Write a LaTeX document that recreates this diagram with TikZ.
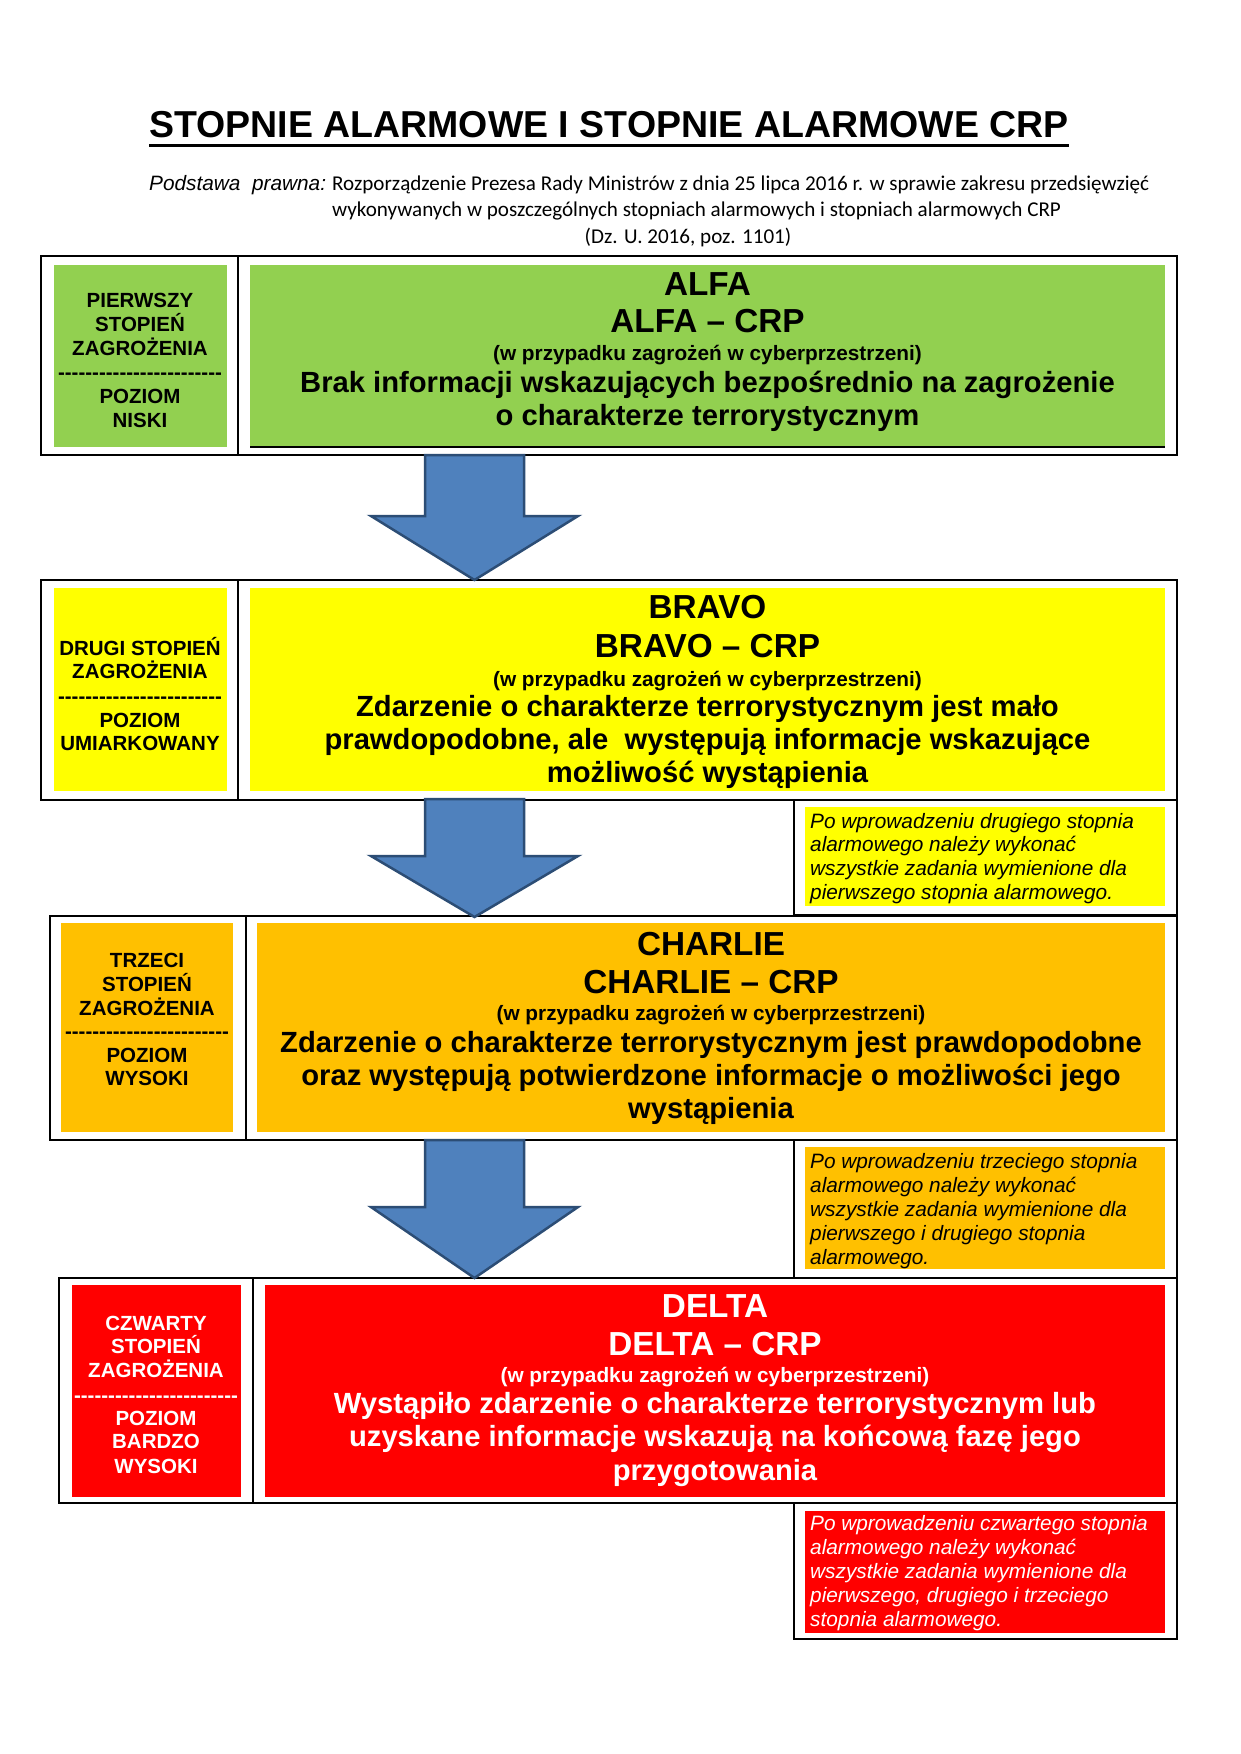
\documentclass[tikz,border=0pt]{standalone}
\usepackage{fontspec}
\setmainfont{Liberation Sans}
\newfontfamily\calibri{Carlito}
\definecolor{cgreen}{RGB}{146,208,80}
\definecolor{cyellow}{RGB}{255,255,0}
\definecolor{corange}{RGB}{255,192,0}
\definecolor{cred}{RGB}{255,0,0}
\definecolor{afill}{RGB}{79,129,189}
\definecolor{aline}{RGB}{44,77,117}
\def\hyph{-\kern0pt}
\def\dashrow{\hyph\hyph\hyph\hyph\hyph\hyph\hyph\hyph\hyph\hyph\hyph\hyph\hyph\hyph\hyph\hyph\hyph\hyph\hyph\hyph\hyph\hyph\hyph\hyph}
\tikzset{
  frame/.style={draw=black, line width=2.2pt, inner sep=0pt, outer sep=0pt, anchor=north west, rectangle},
  panel/.style={draw=none, inner sep=0pt, outer sep=0pt, anchor=north west, rectangle},
  divider/.style={draw=black, line width=2pt},
  head/.style={font=\bfseries\fontsize{33.3}{38}\selectfont, anchor=base, inner sep=0pt},
  subl/.style={font=\bfseries\fontsize{20.8}{24}\selectfont, anchor=base, inner sep=0pt},
  body/.style={font=\bfseries\fontsize{29.2}{34}\selectfont, anchor=base, inner sep=0pt},
  lab/.style={font=\bfseries\fontsize{20.5}{24}\selectfont, anchor=base, inner sep=0pt},
  note/.style={font=\itshape\fontsize{20.8}{24}\selectfont, anchor=base west, inner sep=0pt},
  blockarrow/.style={fill=afill, draw=aline, line width=2.5pt, line join=miter},
}
\begin{document}
\begin{tikzpicture}[x=1pt,y=-1pt]
\fill[white] (0,0) rectangle (1240,1754);
\useasboundingbox (0,0) rectangle (1240,1754);

% title
\node[anchor=base west, inner sep=0pt, font=\bfseries\fontsize{37.5}{40}\selectfont] (title) at (149,137) {STOPNIE ALARMOWE I STOPNIE ALARMOWE CRP};
\draw[line width=3pt] ([yshift=-8pt]title.base west) -- ([yshift=-8pt]title.base east);
\node[anchor=base west, inner sep=0pt, font=\itshape\fontsize{20.8}{24}\selectfont] (pp) at (149,190) {Podstawa\ \ prawna:};
\node[anchor=base west, inner sep=0pt, font=\calibri\fontsize{21.1}{26}\selectfont] (r1) at (332,190) {Rozporządzenie Prezesa Rady Ministrów z dnia 25 lipca 2016 r. w sprawie zakresu przedsięwzięć};
\node[anchor=base west, inner sep=0pt, font=\calibri\fontsize{21.1}{26}\selectfont] (r2) at (332,216) {wykonywanych w poszczególnych stopniach alarmowych i stopniach alarmowych CRP};
\node[anchor=base, inner sep=0pt, font=\calibri\fontsize{21.1}{26}\selectfont] (r3) at (688,243) {(Dz. U. 2016, poz. 1101)};

% ---------- box 1 ----------
\node[frame, minimum width=1136pt, minimum height=199pt] (b1) at (41,256) {};
\draw[divider] (238,256) -- (238,455);
\node[panel, fill=cgreen, minimum width=173pt, minimum height=182pt] (l1) at (54,265) {};
\node[panel, fill=cgreen, minimum width=915pt, minimum height=182pt] (m1) at (250,265) {};
\draw[line width=1.7pt] (m1.south west) -- (m1.south east);
\node[lab] (l1a) at (140,307) {PIERWSZY};
\node[lab] (l1b) at (140,331) {STOPIEŃ};
\node[lab] (l1c) at (140,355) {ZAGROŻENIA};
\node[lab] (l1d) at (140,379) {\dashrow};
\node[lab] (l1e) at (140,403) {POZIOM};
\node[lab] (l1f) at (140,427) {NISKI};
\node[head] (h1a) at (707.5,295) {ALFA};
\node[head] (h1b) at (707.5,332) {ALFA – CRP};
\node[subl] (s1) at (707.5,360) {(w przypadku zagrożeń w cyberprzestrzeni)};
\node[body] (t1a) at (707.5,392) {Brak informacji wskazujących bezpośrednio na zagrożenie};
\node[body] (t1b) at (707.5,425) {o charakterze terrorystycznym};

% ---------- box 2 ----------
\node[frame, minimum width=1136pt, minimum height=220pt] (b2) at (41,580) {};
\draw[divider] (238,580) -- (238,800);
\node[panel, fill=cyellow, minimum width=173pt, minimum height=203pt] (l2) at (54,588) {};
\node[panel, fill=cyellow, minimum width=915pt, minimum height=203pt] (m2) at (250,588) {};
\node[lab] (l2a) at (140,655) {DRUGI STOPIEŃ};
\node[lab] (l2b) at (140,678) {ZAGROŻENIA};
\node[lab] (l2c) at (140,703) {\dashrow};
\node[lab] (l2d) at (140,727) {POZIOM};
\node[lab] (l2e) at (140,750) {UMIARKOWANY};
\node[head] (h2a) at (707.5,618) {BRAVO};
\node[head] (h2b) at (707.5,657) {BRAVO – CRP};
\node[subl] (s2) at (707.5,686) {(w przypadku zagrożeń w cyberprzestrzeni)};
\node[body] (t2a) at (707.5,716) {Zdarzenie o charakterze terrorystycznym jest mało};
\node[body] (t2b) at (707.5,749) {prawdopodobne, ale\ \ występują informacje wskazujące};
\node[body] (t2c) at (707.5,782) {możliwość wystąpienia};

% note 2
\node[frame, minimum width=383pt, minimum height=115pt] (n2) at (794,800) {};
\node[panel, fill=cyellow, minimum width=360pt, minimum height=99pt] (n2p) at (805,807) {};
\node[note] (n2a) at (810,828) {Po wprowadzeniu drugiego stopnia};
\node[note] (n2b) at (810,851.5) {alarmowego należy wykonać};
\node[note] (n2c) at (810,875) {wszystkie zadania wymienione dla};
\node[note] (n2d) at (810,899) {pierwszego stopnia alarmowego.};

% ---------- box 3 ----------
\node[frame, minimum width=1127pt, minimum height=224pt] (b3) at (50,916) {};
\draw[divider] (246,916) -- (246,1140);
\node[panel, fill=corange, minimum width=172pt, minimum height=209pt] (l3) at (61,923) {};
\node[panel, fill=corange, minimum width=908pt, minimum height=209pt] (m3) at (257,923) {};
\node[lab] (l3a) at (147,967) {TRZECI};
\node[lab] (l3b) at (147,991) {STOPIEŃ};
\node[lab] (l3c) at (147,1015) {ZAGROŻENIA};
\node[lab] (l3d) at (147,1038) {\dashrow};
\node[lab] (l3e) at (147,1062) {POZIOM};
\node[lab] (l3f) at (147,1085) {WYSOKI};
\node[head] (h3a) at (711,955) {CHARLIE};
\node[head] (h3b) at (711,993) {CHARLIE – CRP};
\node[subl] (s3) at (711,1020) {(w przypadku zagrożeń w cyberprzestrzeni)};
\node[body] (t3a) at (711,1052) {Zdarzenie o charakterze terrorystycznym jest prawdopodobne};
\node[body] (t3b) at (711,1085) {oraz występują potwierdzone informacje o możliwości jego};
\node[body] (t3c) at (711,1118) {wystąpienia};

% note 3
\node[frame, minimum width=383pt, minimum height=138pt] (n3) at (794,1140) {};
\node[panel, fill=corange, minimum width=360pt, minimum height=122pt] (n3p) at (805,1147) {};
\node[note] (n3a) at (810,1168) {Po wprowadzeniu trzeciego stopnia};
\node[note] (n3b) at (810,1192) {alarmowego należy wykonać};
\node[note] (n3c) at (810,1216) {wszystkie zadania wymienione dla};
\node[note] (n3d) at (810,1240) {pierwszego i drugiego stopnia};
\node[note] (n3e) at (810,1264) {alarmowego.};

% ---------- box 4 ----------
\node[frame, minimum width=1118pt, minimum height=225pt] (b4) at (59,1278) {};
\draw[divider] (253,1278) -- (253,1503);
\node[panel, fill=cred, minimum width=169pt, minimum height=212pt] (l4) at (72,1285) {};
\node[panel, fill=cred, minimum width=900pt, minimum height=212pt] (m4) at (265,1285) {};
\begin{scope}[every node/.append style={text=white}]
\node[lab] (l4a) at (156,1330) {CZWARTY};
\node[lab] (l4b) at (156,1353) {STOPIEŃ};
\node[lab] (l4c) at (156,1377) {ZAGROŻENIA};
\node[lab] (l4d) at (156,1402) {\dashrow};
\node[lab] (l4e) at (156,1425) {POZIOM};
\node[lab] (l4f) at (156,1448) {BARDZO};
\node[lab] (l4g) at (156,1473) {WYSOKI};
\node[head] (h4a) at (715,1317) {DELTA};
\node[head] (h4b) at (715,1355) {DELTA – CRP};
\node[subl] (s4) at (715,1382) {(w przypadku zagrożeń w cyberprzestrzeni)};
\node[body] (t4a) at (715,1413) {Wystąpiło zdarzenie o charakterze terrorystycznym lub};
\node[body] (t4b) at (715,1446) {uzyskane informacje wskazują na końcową fazę jego};
\node[body] (t4c) at (715,1480) {przygotowania};
\end{scope}

% note 4
\node[frame, minimum width=383pt, minimum height=136pt] (n4) at (794,1503) {};
\node[panel, fill=cred, minimum width=360pt, minimum height=122pt] (n4p) at (805,1511) {};
\begin{scope}[every node/.append style={text=white}]
\node[note] (n4a) at (810,1530) {Po wprowadzeniu czwartego stopnia};
\node[note] (n4b) at (810,1554) {alarmowego należy wykonać};
\node[note] (n4c) at (810,1578) {wszystkie zadania wymienione dla};
\node[note] (n4d) at (810,1602) {pierwszego, drugiego i trzeciego};
\node[note] (n4e) at (810,1626) {stopnia alarmowego.};
\end{scope}

% ---------- block arrows ----------
\draw[blockarrow] (425,455) -- (524,455) -- (524,516) -- (578,516) -- (474.5,580) -- (371,516) -- (425,516) -- cycle;
\draw[blockarrow] (425,799) -- (524,799) -- (524,856) -- (578,856) -- (474.5,917) -- (371,856) -- (425,856) -- cycle;
\draw[blockarrow] (425,1140) -- (524,1140) -- (524,1207) -- (578,1207) -- (474.5,1278) -- (371,1207) -- (425,1207) -- cycle;
\end{tikzpicture}
\end{document}
